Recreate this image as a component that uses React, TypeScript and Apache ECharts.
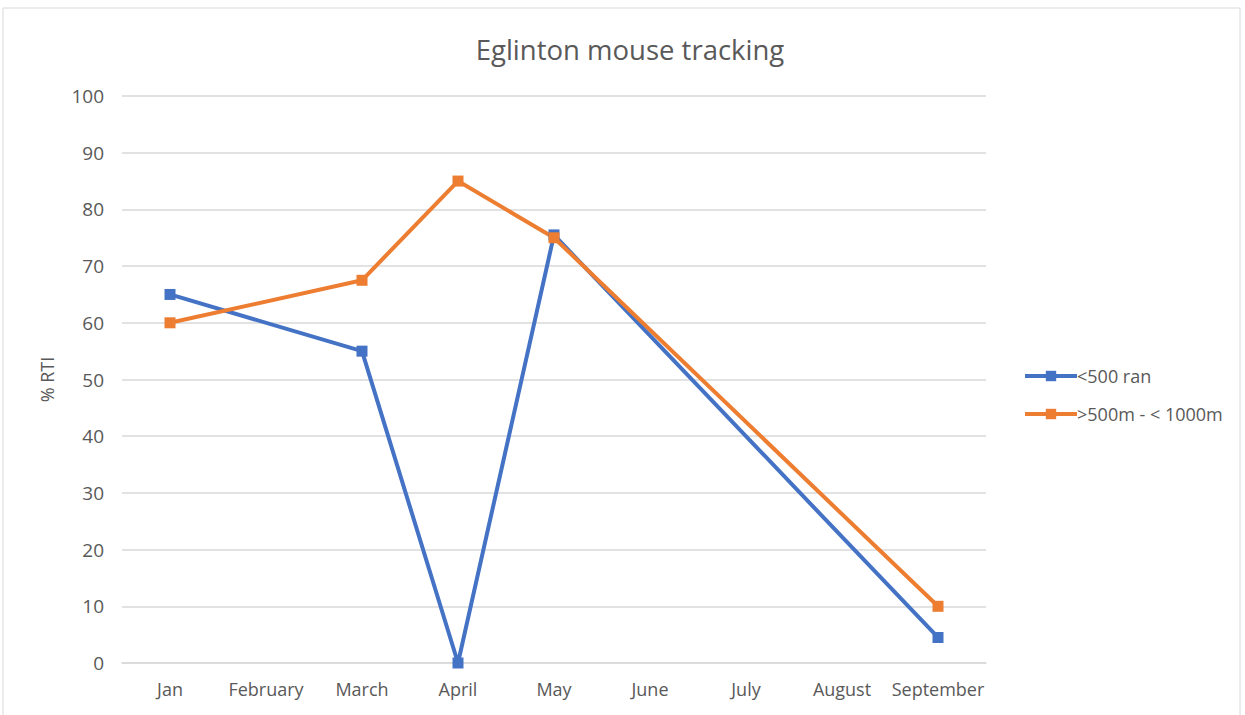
import React, { useEffect, useRef } from "react";
import * as echarts from "echarts";

const categories = ["Jan", "February", "March", "April", "May", "June", "July", "August", "September"];
const seriesBlue = [65, null, 55, 0, 75.5, null, null, null, 4.5];
const seriesOrange = [60, null, 67.5, 85, 75, null, null, null, 10];
const seriesNames = ["<500 ran", ">500m - < 1000m"];
const yTicks = { min: 0, max: 100, interval: 10 };

export default function App() {
  const ref = useRef<HTMLDivElement>(null);
  useEffect(() => {
    const chart = echarts.init(ref.current!, null, { renderer: "svg" });
    const font = "'Open Sans', sans-serif";
    chart.setOption({
      animation: false,
      backgroundColor: "#fff",
      title: {
        text: "Eglinton mouse tracking",
        left: 625,
        textAlign: "center",
        top: 30,
        textStyle: { color: "#595959", fontSize: 27.5, fontWeight: "normal", fontFamily: font },
      },
      graphic: [
        {
          type: "rect",
          shape: { x: 3, y: 8, width: 1237, height: 710 },
          style: { fill: "none", stroke: "#d9d9d9", lineWidth: 1 },
          silent: true,
        },
      ],
      legend: {
        orient: "vertical",
        left: 1018,
        top: 362,
        itemGap: 20,
        itemWidth: 52,
        itemHeight: 13,
        lineStyle: { width: 4 },
        textStyle: { color: "#595959", fontSize: 18, fontFamily: font, padding: [0, 0, 0, -5] },
        data: seriesNames,
      },
      grid: { left: 122, right: 1245 - 986, top: 96, bottom: 52, containLabel: false },
      xAxis: {
        type: "category",
        data: categories,
        boundaryGap: true,
        axisLine: { lineStyle: { color: "#d9d9d9", width: 1.5 } },
        axisTick: { show: false },
        axisLabel: { color: "#595959", fontSize: 18, fontFamily: font, margin: 17, interval: 0 },
      },
      yAxis: {
        type: "value",
        min: yTicks.min,
        max: yTicks.max,
        interval: yTicks.interval,
        name: "% RTI",
        nameLocation: "middle",
        nameGap: 66,
        nameRotate: 90,
        nameTextStyle: { color: "#595959", fontSize: 18, fontFamily: font },
        axisLine: { show: false },
        axisTick: { show: false },
        splitLine: { lineStyle: { color: "#d9d9d9", width: 1.5 } },
        axisLabel: { color: "#595959", fontSize: 19, fontFamily: font, margin: 18 },
      },
      series: [
        {
          name: seriesNames[0],
          type: "line",
          data: seriesBlue,
          connectNulls: true,
          symbol: "rect",
          symbolSize: 11,
          lineStyle: { color: "#4472C4", width: 4 },
          itemStyle: { color: "#4472C4" },
        },
        {
          name: seriesNames[1],
          type: "line",
          data: seriesOrange,
          connectNulls: true,
          symbol: "rect",
          symbolSize: 11,
          lineStyle: { color: "#ED7D31", width: 4 },
          itemStyle: { color: "#ED7D31" },
        },
      ],
    });
    return () => chart.dispose();
  }, []);
  return <div ref={ref} style={{ position: "absolute", left: 0, top: 0, width: 1245, height: 715 }} />;
}
